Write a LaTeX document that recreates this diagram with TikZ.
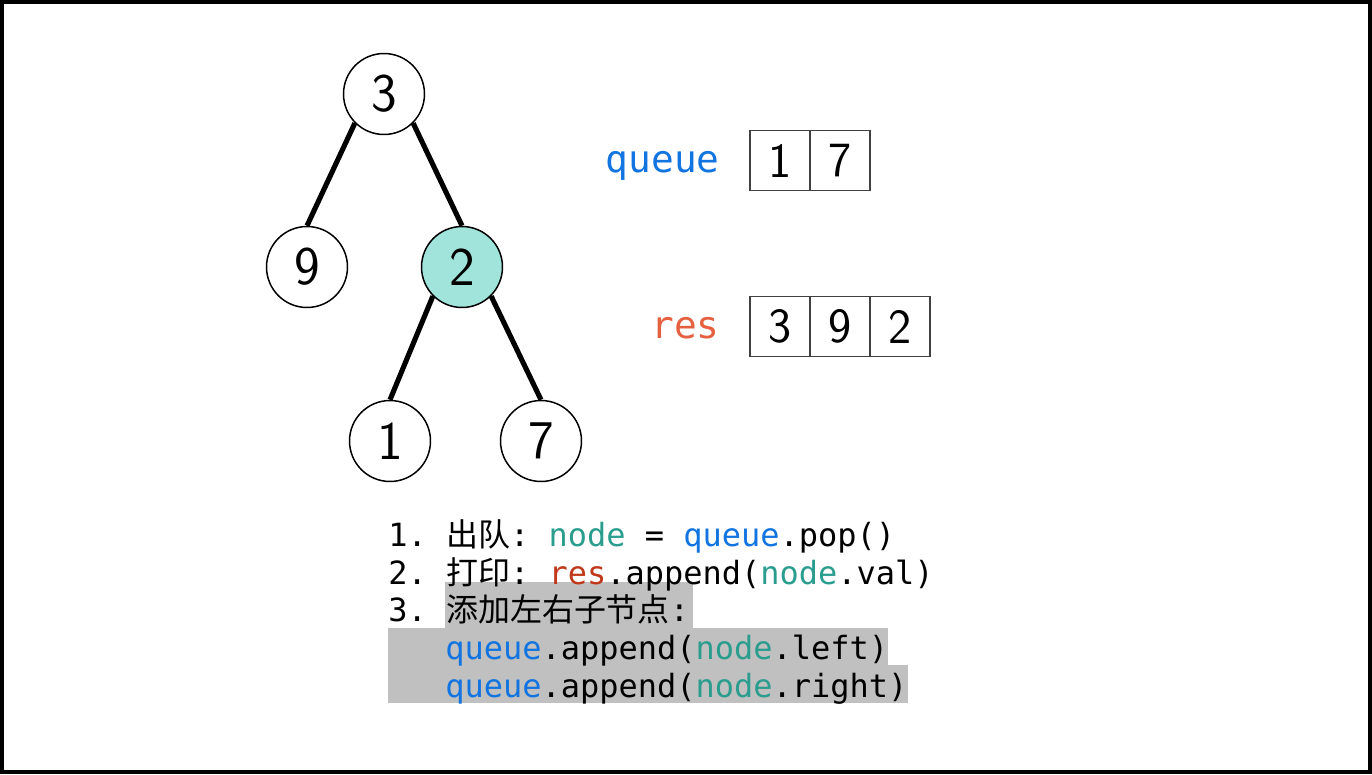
\documentclass[tikz,border=0pt]{standalone}
\usepackage{fontspec}
\setmonofont{DejaVu Sans Mono}
\newfontfamily\cjk{Noto Sans CJK SC}
\usetikzlibrary{positioning}
\definecolor{qblue}{RGB}{17,116,224}
\definecolor{resorange}{RGB}{229,96,63}
\definecolor{resred}{RGB}{192,57,27}
\definecolor{nodeteal}{RGB}{42,157,143}
\definecolor{curfill}{RGB}{160,228,220}
\definecolor{cellgray}{RGB}{64,64,64}
\definecolor{hlgray}{RGB}{192,192,192}
\newcommand{\qv}[1]{\textcolor{qblue}{#1}}
\newcommand{\nd}[1]{\textcolor{nodeteal}{#1}}
\newcommand{\rs}[1]{\textcolor{resred}{#1}}
\tikzset{
  treenode/.style={circle, draw, line width=0.85pt, minimum size=1.62cm,
    inner sep=0pt, font=\sffamily\fontsize{31}{36}\selectfont},
  curnode/.style={treenode, fill=curfill},
  edge/.style={line width=2.9pt},
  cell/.style={rectangle, draw=cellgray, line width=1.1pt, minimum size=1.2cm,
    inner sep=0pt, outer sep=0pt, font=\sffamily\fontsize{28}{32}\selectfont},
  varlabel/.style={inner sep=0pt, font=\ttfamily\fontsize{21.5}{26}\selectfont},
  codeline/.style={anchor=base west, inner sep=0pt, font=\ttfamily\fontsize{18.2}{21}\selectfont},
  hl/.style={fill=hlgray}
}
\begin{document}
\begin{tikzpicture}[x=0.02cm, y=-0.02cm]
  \useasboundingbox (0,0) rectangle (1372,774);
  % frame
  \draw[line width=2pt] (1.8,1.8) rectangle (1370.2,772.2);

  % tree
  \node[treenode] (n3) at (384,94) {3};
  \node[treenode] (n9) at (307,267) {9};
  \node[curnode] (n2) at (462,267) {2};
  \node[treenode] (n1) at (390,441) {1};
  \node[treenode] (n7) at (541,441) {7};
  \draw[edge] (n3.south west) -- (n9.north);
  \draw[edge] (n3.south east) -- (n2.north);
  \draw[edge] (n2.south west) -- (n1.north);
  \draw[edge] (n2.south east) -- (n7.north);

  % queue and res
  \node[cell] (q1) at (780,160.5) {1};
  \node[cell, right=0pt of q1] (q2) {7};
  \node[varlabel, anchor=base east, text=qblue] (qlabel) at ([xshift=-0.6cm, yshift=-0.24cm]q1.west) {queue};
  \node[cell] (r1) at (780,326.5) {3};
  \node[cell, right=0pt of r1] (r2) {9};
  \node[cell, right=0pt of r2] (r3) {2};
  \node[varlabel, anchor=base east, text=resorange] (rlabel) at ([xshift=-0.6cm, yshift=-0.24cm]r1.west) {res};

  % code
  \fill[hl] (445,582) rectangle (693,628);
  \fill[hl] (388,628) rectangle (888,665);
  \fill[hl] (388,665) rectangle (908,703);
  \node[codeline] (c1) at (388,546) {1. {\cjk 出队}: \nd{node} = \qv{queue}.pop()};
  \node[codeline] (c2) at (388,584) {2. {\cjk 打印}: \rs{res}.append(\nd{node}.val)};
  \node[codeline] (c3) at (388,621) {3. {\cjk 添加左右子节点}:};
  \node[codeline] (c4) at (445,659) {\qv{queue}.append(\nd{node}.left)};
  \node[codeline] (c5) at (445,697) {\qv{queue}.append(\nd{node}.right)};
\end{tikzpicture}
\end{document}
